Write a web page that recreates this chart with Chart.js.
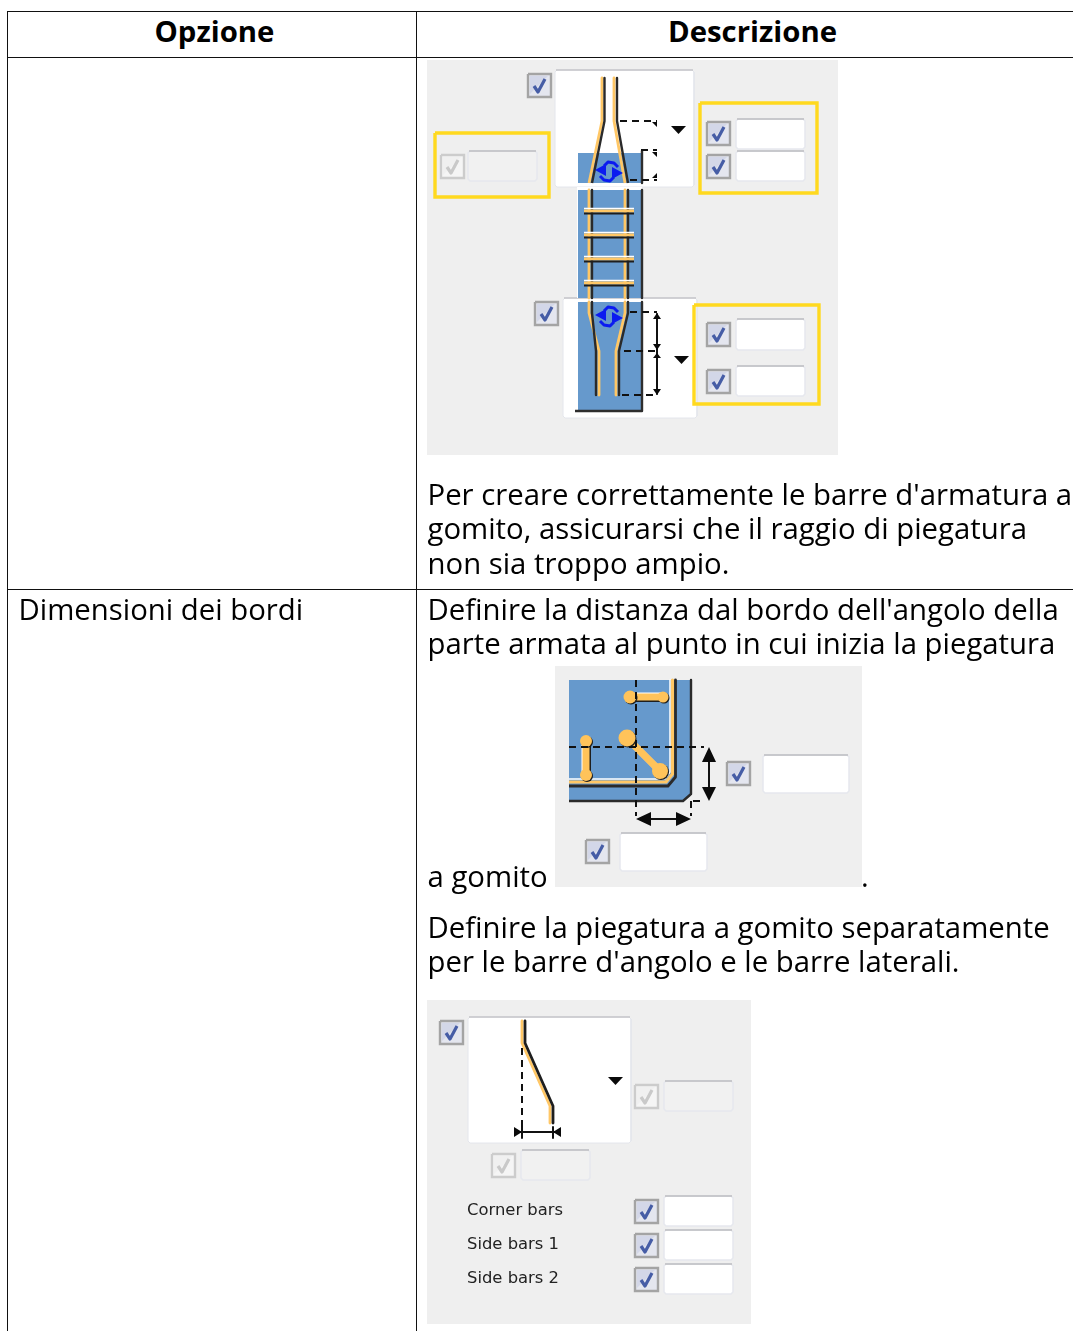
<!DOCTYPE html>
<html>
<head>
<meta charset="utf-8">
<title>Opzione / Descrizione</title>
<script src="https://cdn.jsdelivr.net/npm/chart.js@4"></script>
<style>
    html, body { margin: 0; padding: 0; width: 1073px; height: 1331px; overflow: hidden; background: #fff; }
    body { position: relative; font-family: "Open Sans", sans-serif; color: #000; }
    #griglia { position: absolute; left: 7px; top: 11px; width: 1082px; height: 1400px; border-collapse: collapse; table-layout: fixed; }
    #griglia th, #griglia td { border: 1px solid #111; padding: 0; }
    #griglia th { height: 45px; font-size: 29.33px; font-weight: 700; line-height: 39px; vertical-align: top; }
    #griglia th.prima { padding-left: 5px; }
    #griglia tr.uno td { height: 531px; }
    #disegno { position: absolute; left: 0; top: 0; }
    .testo { position: absolute; font-size: 29.33px; line-height: 34.4px; white-space: nowrap; }
    .etichetta { position: absolute; left: 467px; font: 16.4px/20px "DejaVu Sans", sans-serif; color: #222; white-space: nowrap; }
</style>
</head>
<body>
<table id="griglia">
    <colgroup><col style="width:409px"><col></colgroup>
    <tr><th class="prima">Opzione</th><th>Descrizione</th></tr>
    <tr class="uno"><td></td><td></td></tr>
    <tr><td></td><td></td></tr>
</table>
<canvas id="disegno" width="1073" height="1331"></canvas>

<div class="testo" style="left:427.5px;top:477px">Per creare correttamente le barre d'armatura a<br>gomito, assicurarsi che il raggio di piegatura<br>non sia troppo ampio.</div>
<div class="testo" style="left:18.5px;top:592px">Dimensioni dei bordi</div>
<div class="testo" style="left:427.5px;top:592px">Definire la distanza dal bordo dell'angolo della<br>parte armata al punto in cui inizia la piegatura</div>
<div class="testo" style="left:427.5px;top:859px">a gomito</div>
<div class="testo" style="left:861px;top:859px">.</div>
<div class="testo" style="left:427.5px;top:910px">Definire la piegatura a gomito separatamente<br>per le barre d'angolo e le barre laterali.</div>
<div class="etichetta" style="top:1200px">Corner bars</div>
<div class="etichetta" style="top:1234px">Side bars 1</div>
<div class="etichetta" style="top:1268px">Side bars 2</div>

<script>
// all values below are in the chart's own x / y units
var pannelli = [[427, 60, 838, 455], [555, 666, 862, 887], [427, 1000, 751, 1324]];
var riquadriBianchi = [[555, 70, 694, 187], [563, 298, 697, 418], [468, 1017, 631, 1143]];
var riquadriGialli = [[435, 133, 549, 197], [700, 103, 817, 193], [694, 305, 819, 404]];
var caselleAttive = [[527, 73], [706, 121], [706, 154], [534, 301], [706, 322], [706, 369], [726, 761], [585, 839], [439, 1020], [634, 1199], [634, 1233], [634, 1267]];
var caselleSpente = [[440, 154], [634, 1084], [491, 1153]];
var campiAttivi = [[736, 119, 805, 149], [736, 151, 805, 181], [736, 319, 805, 350], [736, 366, 805, 396], [763, 755, 849, 793], [620, 833, 707, 871], [664, 1196, 733, 1226], [664, 1230, 733, 1260], [664, 1264, 733, 1294]];
var campiSpenti = [[468, 151, 537, 181], [664, 1081, 733, 1111], [521, 1150, 590, 1180]];

// colonna blu e barre, primo pannello
var colonnaBlu = [[578, 153, 641, 183], [578, 190, 641, 298], [578, 302, 641, 410]];
var bordiColonna = [[[642, 151], [642, 183]], [[642, 190], [642, 298]], [[642, 302], [642, 411], [575, 411]]];
var barreArancio = [
    [[602, 78], [602, 121], [589, 183]], [[614, 78], [614, 121], [625, 183]],
    [[589, 190], [589, 298]], [[625, 190], [625, 298]],
    [[589, 302], [589, 313], [599, 351], [599, 395]], [[625, 302], [625, 313], [616, 351], [616, 395]]
];
var barreNere = [
    [[604.5, 78], [604.5, 121], [592, 183]], [[617, 78], [617, 121], [628, 183]],
    [[592, 190], [592, 298]], [[628, 190], [628, 298]],
    [[592, 302], [592, 313], [596, 351], [596, 395]], [[628, 302], [628, 313], [619, 351], [619, 395]]
];
var staffe = [[584, 634, 211], [584, 634, 235], [584, 634, 259], [584, 634, 283]];
var tratteggi = [
    [[620, 121], [657, 121]], [[641, 150], [657, 150]], [[630, 180], [657, 180]],
    [[630, 312], [657, 312]], [[624, 351], [657, 351]], [[622, 395], [657, 395]],
    [[636, 680], [636, 816]], [[569, 747], [704, 747]], [[691, 801], [691, 816]], [[693, 801], [704, 801]],
    [[522, 1048], [522, 1131]]
];
var lineeNere = [
    [[657, 314], [657, 394]],
    [[709, 750], [709, 798]], [[640, 819], [687, 819]],
    [[514, 1132], [561, 1132]], [[522, 1127], [522, 1138]], [[553, 1127], [553, 1138]]
];
var triangoli = [
    [[671, 126], [686, 126], [678.5, 134]], [[674, 356], [689, 356], [681.5, 364]], [[608, 1077], [623, 1077], [615.5, 1085]],
    [[657, 313], [653, 319], [661, 319]], [[657, 350], [653, 344], [661, 344]], [[657, 353], [653, 358], [661, 358]], [[657, 395], [653, 389], [661, 389]],
    [[709, 747], [702, 762], [716, 762]], [[709, 801], [702, 787], [716, 787]],
    [[636, 819], [651, 812], [651, 826]], [[691, 819], [676, 812], [676, 826]],
    [[522, 1132], [514, 1127], [514, 1137]], [[553, 1132], [561, 1127], [561, 1137]],
    [[652, 122], [657, 122], [657, 127]], [[652, 152], [657, 152], [657, 157]], [[652, 178], [657, 178], [657, 173]]
];
var centriIcona = [[609, 171], [609, 316]];
var frecciaIconaA = [[-14, -1], [-3, -7], [-3, 5]];
var frecciaIconaB = [[14, 2], [3, -4], [3, 8]];
var arcoIconaA = [[-5, -5], [-1, -9], [5, -8], [9, -4]];
var arcoIconaB = [[5, 6], [1, 10], [-5, 9], [-9, 5]];

// secondo pannello
var bloccoBlu = [[569, 680], [691, 680], [691, 794], [683, 801], [569, 801], [569, 680]];
var bordoBlocco = [[691, 680], [691, 794], [683, 801], [569, 801]];
var staffaBianca = [[670, 680], [670, 772], [665, 779], [569, 779]];
var staffaArancio = [[672.5, 680], [672.5, 774], [666, 782], [569, 782]];
var staffaNera = [[675.5, 680], [675.5, 777], [668, 786], [569, 786]];
var tondini = [
    [[630, 697, 6.5], [663, 697, 5.5]],
    [[586, 741, 6], [586, 775, 6]],
    [[627, 738, 8.5], [660, 771, 8]]
];

// terzo pannello
var barraArancio = [[522, 1021], [522, 1043], [550, 1106], [550, 1123]];
var barraNera = [[525, 1021], [525, 1043], [553, 1106], [553, 1123]];

var datasets = [];

function punti(lista, dx, dy) {
    return lista.map(function(p) { return {x: p[0] + (dx || 0), y: p[1] + (dy || 0)}; });
}
function linea(lista, colore, spessore, dash, dx, dy) {
    datasets.push({
        data: punti(lista, dx, dy), showLine: true, pointRadius: 0, fill: false,
        borderColor: colore, borderWidth: spessore, borderDash: dash || [],
        borderCapStyle: 'butt', borderJoinStyle: 'round', tension: 0
    });
}
function forma(lista, colore, bordo, spessore, dx, dy) {
    datasets.push({
        data: punti(lista.concat([lista[0]]), dx, dy), showLine: true, pointRadius: 0, fill: 'shape',
        backgroundColor: colore, borderColor: bordo || colore, borderWidth: spessore || 0, tension: 0
    });
}
function box(r) {
    return [[r[0], r[1]], [r[2], r[1]], [r[2], r[3]], [r[0], r[3]]];
}
function smussato(r, c) {
    return [[r[0] + c, r[1]], [r[2] - c, r[1]], [r[2], r[1] + c], [r[2], r[3] - c], [r[2] - c, r[3]], [r[0] + c, r[3]], [r[0], r[3] - c], [r[0], r[1] + c]];
}
function casella(c, attiva) {
    var r = [c[0] + 1, c[1] + 1, c[0] + 24, c[1] + 24];
    forma(box(r), attiva ? '#E4E6EF' : '#F5F5F5', attiva ? '#A4A4A4' : '#CCCCCC', 2.4);
    forma([[r[0] + 2, r[1] + 2], [r[2] - 3, r[1] + 2], [r[0] + 2, r[3] - 3]], attiva ? '#D3D7E8' : '#F0F0F0');
    linea([[c[0] + 7, c[1] + 13], [c[0] + 11, c[1] + 19], [c[0] + 18, c[1] + 6]], attiva ? '#465DA6' : '#C9C9C9', 3.2);
}
function campo(r, colore) {
    forma(smussato(r, 2), colore, '#E6E8EE', 1.5);
    linea([[r[0] + 1, r[1]], [r[2] - 1, r[1]]], '#BDBDC1', 1.5);
}

pannelli.forEach(function(r) { forma(box(r), '#EFEFEF'); });

// la colonna blu passa sotto e sopra ai riquadri bianchi
riquadriBianchi.forEach(function(r) {
    forma(smussato(r, 2), '#FFFFFF', '#E4E6EC', 1);
    linea([[r[0] + 1, r[1]], [r[2] - 1, r[1]]], '#C4C4C8', 1.5);
});
forma(box([577, 187, 642, 298]), '#FFFFFF');
colonnaBlu.forEach(function(r) { forma(box(r), '#6699CC'); });
bordiColonna.forEach(function(l) { linea(l, '#2E2E2E', 2.4); });

barreArancio.forEach(function(l) { linea(l, '#FFC766', 2.8); });
barreNere.forEach(function(l) { linea(l, '#2A2A2A', 2.4); });
staffe.forEach(function(s) {
    linea([[s[0], s[2] - 2.5], [s[1], s[2] - 2.5]], '#FFFFFF', 1.4);
    linea([[s[0], s[2]], [s[1], s[2]]], '#FFC766', 3);
    linea([[s[0], s[2] + 2.5], [s[1], s[2] + 2.5]], '#1E1E1E', 2);
});
centriIcona.forEach(function(c) {
    forma(frecciaIconaA, '#0B1BF0', null, 0, c[0], c[1]);
    forma(frecciaIconaB, '#0B1BF0', null, 0, c[0], c[1]);
    linea(arcoIconaA, '#0B1BF0', 3, null, c[0], c[1]);
    linea(arcoIconaB, '#0B1BF0', 3, null, c[0], c[1]);
});

forma(bloccoBlu, '#6699CC');
linea(bordoBlocco, '#2A2A2A', 2.4);
linea(staffaBianca, '#FFFFFF', 1.5);
linea(staffaArancio, '#FFC766', 3.2);
linea(staffaNera, '#2A2A2A', 2.8);
tondini.forEach(function(t) {
    linea(t, '#1E1E1E', 7, null, 1.5, 1.5);
    linea(t, '#FFFFFF', 7, null, -1, -1);
    linea(t, '#FFC35A', 7);
    datasets.push({
        data: t.map(function(p) { return {x: p[0] + 1, y: p[1] + 1}; }), pointRadius: t.map(function(p) { return p[2]; }),
        pointBackgroundColor: '#1E1E1E', pointBorderWidth: 0, showLine: false
    });
    datasets.push({
        data: t.map(function(p) { return {x: p[0], y: p[1]}; }), pointRadius: t.map(function(p) { return p[2]; }),
        pointBackgroundColor: '#FFC35A', pointBorderWidth: 0, showLine: false
    });
});

linea(barraArancio, '#FFC766', 2.8);
linea(barraNera, '#1E1E1E', 2.8);

tratteggi.forEach(function(l) { linea(l, '#111111', 2, [7, 5]); });
lineeNere.forEach(function(l) { linea(l, '#111111', 2); });
triangoli.forEach(function(t) { forma(t, '#0A0A0A'); });

riquadriGialli.forEach(function(r) { forma(box(r).concat([[r[0], r[1]]]), 'rgba(0,0,0,0)', '#FFD91F', 3.4); });
caselleAttive.forEach(function(c) { casella(c, true); });
caselleSpente.forEach(function(c) { casella(c, false); });
campiAttivi.forEach(function(r) { campo(r, '#FFFFFF'); });
campiSpenti.forEach(function(r) { campo(r, '#F1F1F1'); });

// chart.js draws the first dataset on top, so later ones get a lower order
datasets.forEach(function(d, i) { d.order = -i; });

var ctx = document.getElementById('disegno');
var chart = new Chart(ctx, {
    type: 'scatter',
    data: { datasets: datasets },
    options: {
        responsive: false,
        animation: false,
        events: [],
        layout: { autoPadding: false, padding: 0 },
        plugins: { legend: { display: false }, tooltip: { enabled: false } },
        scales: {
            x: { type: 'linear', min: 0, max: 1073, display: false },
            y: { type: 'linear', min: 0, max: 1331, reverse: true, display: false }
        }
    }
});
</script>
</body>
</html>
